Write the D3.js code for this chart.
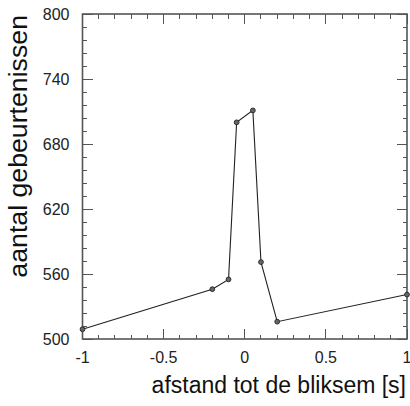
<!DOCTYPE html>
<html>
<head>
<meta charset="utf-8">
<script src="https://cdn.jsdelivr.net/npm/d3@7"></script>
<style>
  html, body { margin: 0; padding: 0; background: #fff; }
  svg { display: block; font-family: "Liberation Sans", Arial, sans-serif; }
</style>
</head>
<body>
<svg id="chart" width="410" height="406"></svg>
<script>
// Tijd ten opzichte van de bliksem (s) en aantal gebeurtenissen
const offsets = [-1, -0.2, -0.1, -0.05, 0.05, 0.1, 0.2, 1];
const counts  = [509, 546, 555, 700, 711, 571, 516, 541];

const xTicks = [-1, -0.5, 0, 0.5, 1];
const xTickLabels = ["-1", "-0.5", "0", "0.5", "1"];
const yTicks = [500, 560, 620, 680, 740, 800];
const yTickLabels = ["500", "560", "620", "680", "740", "800"];

const xTitle = "afstand tot de bliksem [s]";
const yTitle = "aantal gebeurtenissen";

const svg = d3.select("#chart");
const plotL = 82.5, plotR = 407, plotT = 14, plotB = 339;

const x = d3.scaleLinear().domain([-1, 1]).range([plotL, plotR]);
const y = d3.scaleLinear().domain([500, 800]).range([plotB, plotT]);

const frameColor = "#555";
const majorLen = 10, minorLen = 4.5;

// minor and major tick positions
const xMinor = d3.range(-10, 11).map(i => i / 10).filter(v => !xTicks.some(t => Math.abs(t - v) < 1e-9));
const yMinor = d3.range(500, 801, 12).filter(v => !yTicks.includes(v));

const g = svg.append("g").attr("stroke", frameColor).attr("stroke-width", 1).attr("shape-rendering", "crispEdges");

// ticks on bottom and top edges (pointing inward)
[[xTicks, majorLen], [xMinor, minorLen]].forEach(([vals, len]) => {
  vals.forEach(v => {
    g.append("line").attr("x1", x(v)).attr("x2", x(v)).attr("y1", plotB).attr("y2", plotB - len);
    g.append("line").attr("x1", x(v)).attr("x2", x(v)).attr("y1", plotT).attr("y2", plotT + len);
  });
});
// ticks on left and right edges (pointing inward)
[[yTicks, majorLen], [yMinor, minorLen]].forEach(([vals, len]) => {
  vals.forEach(v => {
    g.append("line").attr("y1", y(v)).attr("y2", y(v)).attr("x1", plotL).attr("x2", plotL + len);
    g.append("line").attr("y1", y(v)).attr("y2", y(v)).attr("x1", plotR).attr("x2", plotR - len);
  });
});

// frame
svg.append("rect")
  .attr("x", plotL).attr("y", plotT)
  .attr("width", plotR - plotL).attr("height", plotB - plotT)
  .attr("fill", "none").attr("stroke", frameColor).attr("stroke-width", 1.6);

// tick labels
svg.selectAll("text.xt").data(xTicks).join("text")
  .attr("class", "xt")
  .attr("x", d => x(d)).attr("y", plotB + 24)
  .attr("text-anchor", "middle")
  .attr("font-size", 16).attr("fill", "#222")
  .text((d, i) => xTickLabels[i]);

svg.selectAll("text.yt").data(yTicks).join("text")
  .attr("class", "yt")
  .attr("x", plotL - 13).attr("y", d => y(d) + 6)
  .attr("text-anchor", "end")
  .attr("font-size", 16).attr("fill", "#222")
  .text((d, i) => yTickLabels[i]);

// axis titles
svg.append("text")
  .attr("x", plotR - 1).attr("y", 393)
  .attr("text-anchor", "end")
  .attr("font-size", 23).attr("fill", "#111")
  .text(xTitle);

svg.append("text")
  .attr("transform", `translate(27, ${plotT + 1}) rotate(-90)`)
  .attr("text-anchor", "end")
  .attr("font-size", 26.7).attr("fill", "#111")
  .text(yTitle);

// data line and markers
const pts = offsets.map((o, i) => [o, counts[i]]);
svg.append("path")
  .datum(pts)
  .attr("d", d3.line().x(d => x(d[0])).y(d => y(d[1])))
  .attr("fill", "none").attr("stroke", "#222").attr("stroke-width", 1.1);

svg.selectAll("circle.pt").data(pts).join("circle")
  .attr("class", "pt")
  .attr("cx", d => x(d[0])).attr("cy", d => y(d[1]))
  .attr("r", 2.4)
  .attr("fill", "#666").attr("stroke", "#222").attr("stroke-width", 0.9);
</script>
</body>
</html>
